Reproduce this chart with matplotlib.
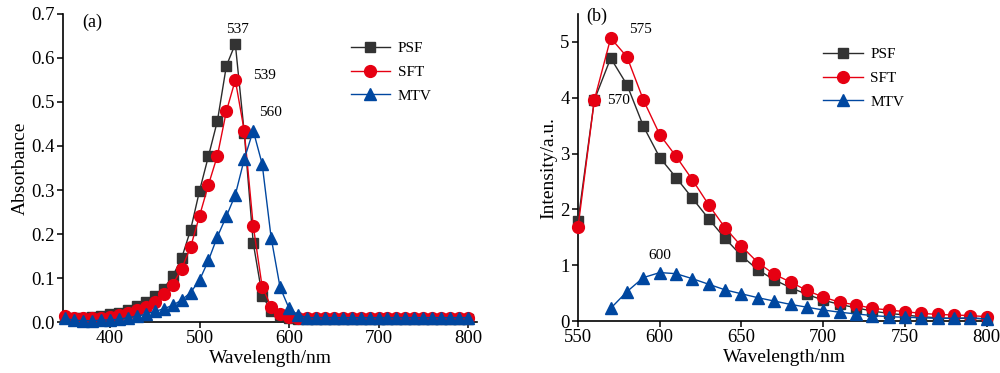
import numpy as np
import matplotlib
matplotlib.use("Agg")
import matplotlib.pyplot as plt

plt.rcParams['font.family'] = ['Liberation Serif', 'DejaVu Serif']
plt.rcParams['mathtext.fontset'] = 'stix'

# ---------------- Panel (a): absorbance ----------------
wl_a = list(range(350, 801, 10))
psf_abs = [0.009, 0.009, 0.010, 0.011, 0.013, 0.0175, 0.021, 0.028, 0.036, 0.046,
           0.059, 0.076, 0.104, 0.145, 0.209, 0.298, 0.377, 0.457, 0.582, 0.632,
           0.430, 0.180, 0.060, 0.026, 0.015, 0.010] + [0.006] * 20
sft_abs = [0.013, 0.009, 0.008, 0.008, 0.009, 0.011, 0.015, 0.021, 0.027, 0.034,
           0.046, 0.063, 0.085, 0.121, 0.170, 0.241, 0.312, 0.378, 0.479, 0.550,
           0.434, 0.219, 0.080, 0.035, 0.018, 0.012] + [0.010] * 20
mtv_abs = [0.008, 0.004, 0.003, 0.003, 0.004, 0.005, 0.006, 0.010, 0.013, 0.018,
           0.024, 0.030, 0.038, 0.050, 0.067, 0.095, 0.140, 0.194, 0.240, 0.289,
           0.370, 0.435, 0.359, 0.192, 0.079, 0.031, 0.016] + [0.010] * 19

# ---------------- Panel (b): fluorescence ----------------
wl_b = list(range(550, 801, 10))
psf_int = [1.79, 3.96, 4.71, 4.23, 3.49, 2.93, 2.57, 2.20, 1.83, 1.48, 1.17, 0.92,
           0.74, 0.60, 0.48, 0.375, 0.30, 0.24, 0.18, 0.14, 0.11, 0.08, 0.06, 0.05,
           0.05, 0.04]
sft_int = [1.68, 3.96, 5.07, 4.73, 3.96, 3.34, 2.95, 2.53, 2.08, 1.67, 1.34, 1.05,
           0.84, 0.70, 0.55, 0.43, 0.34, 0.29, 0.23, 0.20, 0.17, 0.14, 0.12, 0.11,
           0.10, 0.08]
wl_b_mtv = list(range(570, 801, 10))
mtv_int = [0.23, 0.53, 0.78, 0.87, 0.85, 0.76, 0.66, 0.56, 0.49, 0.42, 0.36, 0.30,
           0.25, 0.20, 0.16, 0.13, 0.10, 0.08, 0.07, 0.06, 0.05, 0.05, 0.06, 0.04]

names = ['PSF', 'SFT', 'MTV']
colors = ['#2b2b2b', '#e60012', '#0047a0']
mfc = ['#333333', '#e60012', '#0047a0']
markers = ['s', 'o', '^']
msizes = [7, 8.5, 8.5]

fig = plt.figure(figsize=(10, 3.73), dpi=100)
ax1 = fig.add_axes([0.063, 0.1367, 0.414, 0.8258])
ax2 = fig.add_axes([0.578, 0.139, 0.412, 0.8235])

for ax, xs, ys in [(ax1, [wl_a, wl_a, wl_a], [psf_abs, sft_abs, mtv_abs]),
                   (ax2, [wl_b, wl_b, wl_b_mtv], [psf_int, sft_int, mtv_int])]:
    for i in range(3):
        ax.plot(xs[i], ys[i], color=colors[i], marker=markers[i], ms=msizes[i],
                mfc=mfc[i], mec=mfc[i], lw=1.0, label=names[i], clip_on=False, zorder=3 + i)
    for s in ['top', 'right']:
        ax.spines[s].set_visible(False)
    for s in ['left', 'bottom']:
        ax.spines[s].set_linewidth(1.2)
    ax.tick_params(direction='out', length=4, width=1.1, labelsize=13.5, pad=2)
    ax.set_xlabel('Wavelength/nm', fontsize=14, labelpad=2)
    leg = ax.legend(frameon=False, fontsize=11, loc='upper left', handlelength=2.6,
                    handletextpad=0.5, labelspacing=0.65, borderaxespad=0)

ax1.set_xlim(347.5, 810)
ax1.set_ylim(0, 0.7)
ax1.set_xticks([400, 500, 600, 700, 800])
ax1.set_yticks(np.arange(0, 0.71, 0.1))
ax1.set_yticklabels([f'{v:.1f}' for v in np.arange(0, 0.71, 0.1)])
ax1.set_ylabel('Absorbance', fontsize=14, labelpad=2)
ax1.get_legend().set_bbox_to_anchor((0.68, 0.93))
ax1.text(380, 0.68, '(a)', fontsize=13, ha='center', va='center')
ax1.text(542, 0.664, '537', fontsize=11, ha='center', va='center')
ax1.text(573, 0.561, '539', fontsize=11, ha='center', va='center')
ax1.text(579, 0.475, '560', fontsize=11, ha='center', va='center')

ax2.set_xlim(550, 802)
ax2.set_ylim(0, 5.5)
ax2.set_xticks([550, 600, 650, 700, 750, 800])
ax2.set_yticks([0, 1, 2, 3, 4, 5])
ax2.set_ylabel('Intensity/a.u.', fontsize=14, labelpad=2)
ax2.get_legend().set_bbox_to_anchor((0.58, 0.91))
ax2.text(561.6, 5.46, '(b)', fontsize=13, ha='center', va='center')
ax2.text(588, 5.23, '575', fontsize=11, ha='center', va='center')
ax2.text(574.5, 3.95, '570', fontsize=11, ha='center', va='center')
ax2.text(600, 1.18, '600', fontsize=11, ha='center', va='center')

fig.savefig('out.png', dpi=100)
